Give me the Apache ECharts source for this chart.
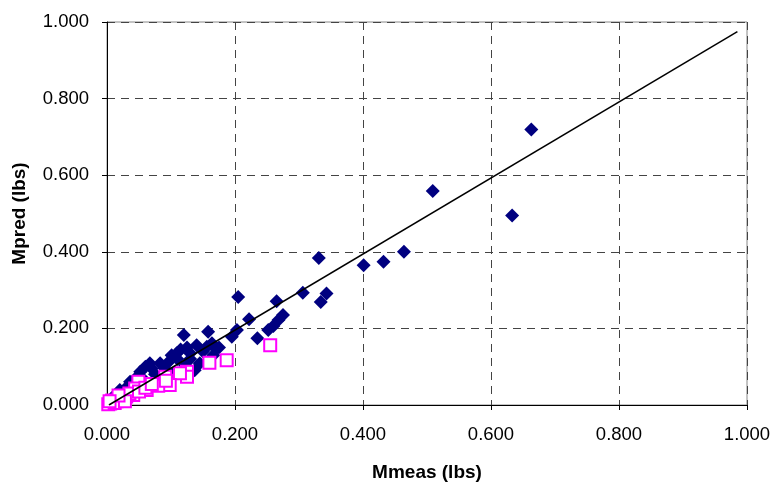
<!DOCTYPE html>
<html>
<head>
<meta charset="utf-8">
<script src="https://cdn.jsdelivr.net/npm/echarts@6/dist/echarts.min.js"></script>
<style>
  html, body { margin: 0; padding: 0; background: #fff; }
  #chart { width: 775px; height: 487px; }
</style>
</head>
<body>
<div id="chart"></div>
<script>
// measured vs predicted (blue diamonds)
var blueMeas = [0.663, 0.633, 0.509, 0.464, 0.432, 0.401, 0.331, 0.343, 0.334, 0.306,
  0.205, 0.265, 0.222, 0.275, 0.268, 0.260, 0.252, 0.235, 0.203, 0.195,
  0.158, 0.120, 0.169, 0.164, 0.140, 0.156, 0.101, 0.083, 0.109, 0.130,
  0.122, 0.137, 0.145, 0.166, 0.067, 0.052, 0.036, 0.020, 0.010, 0.046,
  0.058, 0.075, 0.090, 0.085, 0.110, 0.115, 0.095, 0.070, 0.060, 0.040,
  0.030, 0.025, 0.015, 0.005, 0.050, 0.125, 0.150, 0.175, 0.105, 0.130];
var bluePred = [0.719, 0.495, 0.559, 0.400, 0.374, 0.365, 0.384, 0.291, 0.269, 0.293,
  0.282, 0.271, 0.224, 0.235, 0.222, 0.206, 0.196, 0.174, 0.196, 0.178,
  0.191, 0.183, 0.148, 0.161, 0.156, 0.152, 0.130, 0.109, 0.135, 0.135,
  0.104, 0.091, 0.109, 0.130, 0.109, 0.087, 0.061, 0.039, 0.022, 0.072,
  0.065, 0.080, 0.095, 0.070, 0.120, 0.145, 0.110, 0.095, 0.100, 0.050,
  0.045, 0.030, 0.020, 0.010, 0.040, 0.150, 0.140, 0.150, 0.085, 0.120];

// second group (magenta squares)
var pinkMeas = [0.255, 0.187, 0.160, 0.125, 0.125, 0.114, 0.098, 0.091, 0.080, 0.092,
  0.049, 0.062, 0.044, 0.041, 0.030, 0.025, 0.020, 0.015, 0.010, 0.005,
  0.002, 0.008, 0.012, 0.035, 0.028, 0.018, 0.004, 0.050, 0.060, 0.070];
var pinkPred = [0.156, 0.117, 0.110, 0.087, 0.074, 0.083, 0.052, 0.074, 0.050, 0.063,
  0.061, 0.039, 0.043, 0.026, 0.022, 0.015, 0.018, 0.010, 0.008, 0.004,
  0.002, 0.012, 0.005, 0.030, 0.010, 0.025, 0.010, 0.035, 0.045, 0.055];

// trend line end points
var fitMeas = [0.003, 0.985];
var fitPred = [0.000, 0.975];

function pairs(xs, ys) {
  return xs.map(function (x, i) { return [x, ys[i]]; });
}

var chart = echarts.init(document.getElementById('chart'));

var fontFam = 'Liberation Sans, Arial, sans-serif';
var tickFont = { fontFamily: fontFam, fontSize: 18.5, color: '#000' };
var titleFont = { fontFamily: fontFam, fontSize: 19, fontWeight: 'bold', color: '#000' };

option = {
  animation: false,
  grid: {
    left: 107, right: 28, top: 22, bottom: 82,
    show: true, borderColor: '#888', borderWidth: 1
  },
  xAxis: {
    type: 'value', min: 0, max: 1, interval: 0.2,
    name: 'Mmeas (lbs)', nameLocation: 'middle', nameGap: 58,
    nameTextStyle: titleFont,
    axisLine: { lineStyle: { color: '#000', width: 1 } },
    axisTick: { show: true, length: 5, lineStyle: { color: '#000' } },
    axisLabel: Object.assign({ margin: 20, formatter: function (v) { return v.toFixed(3); } }, tickFont),
    splitLine: { lineStyle: { color: '#444', type: [8, 6], width: 1 } }
  },
  yAxis: {
    type: 'value', min: 0, max: 1, interval: 0.2,
    name: 'Mpred (lbs)', nameLocation: 'middle', nameGap: 78, nameRotate: 90,
    nameTextStyle: titleFont,
    axisLine: { show: true, lineStyle: { color: '#000', width: 1 } },
    axisTick: { show: true, length: 5, lineStyle: { color: '#000' } },
    axisLabel: Object.assign({ margin: 18, formatter: function (v) { return v.toFixed(3); } }, tickFont),
    splitLine: { lineStyle: { color: '#444', type: [8, 6], width: 1 } }
  },
  series: [
    {
      name: 'A',
      type: 'scatter',
      symbol: 'diamond',
      symbolSize: 14,
      itemStyle: { color: '#000080', opacity: 1 },
      data: pairs(blueMeas, bluePred)
    },
    {
      name: 'B',
      type: 'scatter',
      symbol: 'rect',
      symbolSize: 12,
      itemStyle: { color: '#fff', borderColor: '#FF00FF', borderWidth: 2, opacity: 1 },
      data: pairs(pinkMeas, pinkPred)
    },
    {
      name: 'fit',
      type: 'line',
      symbol: 'none',
      lineStyle: { color: '#000', width: 1.5 },
      data: pairs(fitMeas, fitPred)
    }
  ]
};

chart.setOption(option);
</script>
</body>
</html>
